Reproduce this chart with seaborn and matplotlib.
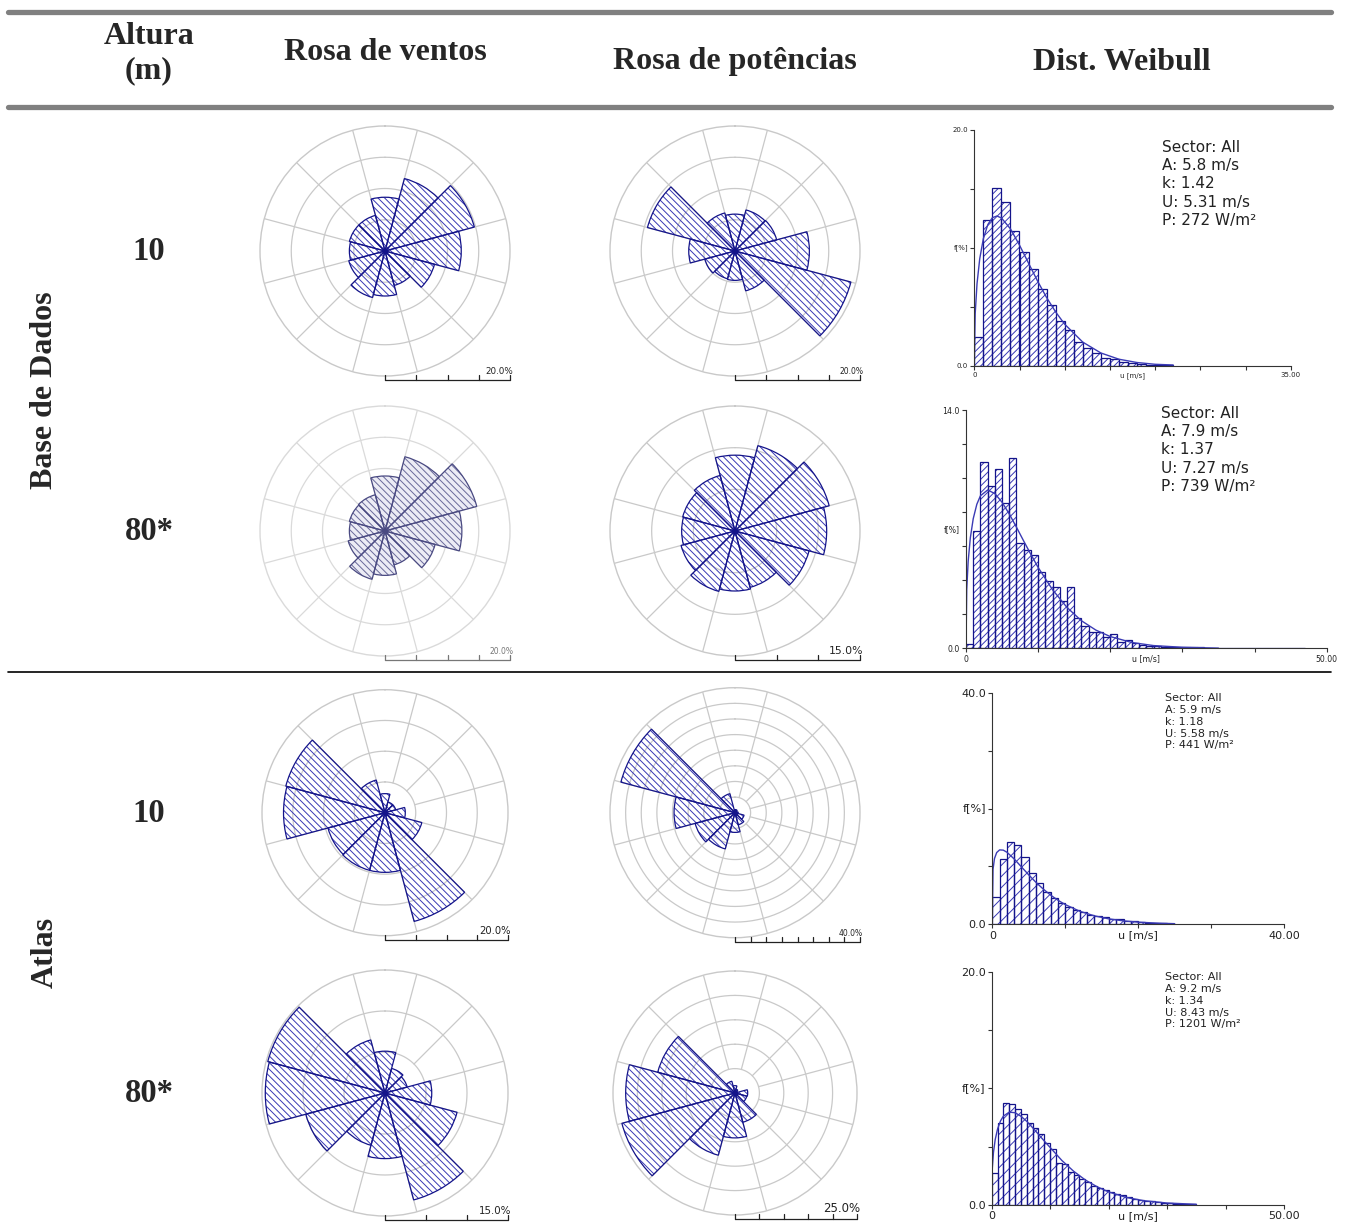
import numpy as np
import pandas as pd
import matplotlib
matplotlib.use('Agg')
import matplotlib.pyplot as plt
from matplotlib.lines import Line2D
import seaborn as sns

W, H = 1349, 1228

# sectores da rosa (graus a partir do Norte, sentido horário)
setores = np.arange(0, 360, 30)

# Rosa de ventos - frequência por sector [%]
vento_bd10 = [8.6, 12.0, 14.8, 12.2, 8.2, 5.7, 7.2, 7.7, 6.0, 5.7, 5.9, 5.9]
vento_bd80 = [8.8, 12.3, 15.2, 12.3, 8.3, 5.6, 7.1, 8.0, 6.1, 5.7, 5.9, 6.0]
vento_at10 = [3.1, 1.8, 1.8, 3.3, 6.2, 18.3, 9.7, 9.7, 9.6, 16.5, 16.7, 5.5]
vento_at80 = [5.1, 3.1, 2.8, 5.7, 9.1, 13.5, 8.0, 6.6, 10.0, 14.6, 14.8, 6.7]

# Rosa de potências [%]
pot_bd10 = [5.9, 6.8, 6.9, 11.9, 19.2, 6.6, 4.7, 4.6, 5.0, 7.4, 14.5, 6.3]
pot_bd80 = [9.1, 10.6, 11.7, 11.0, 9.2, 7.0, 7.2, 7.5, 6.7, 6.4, 6.5, 6.9]
pot_at10 = [1.0, 1.0, 0.5, 1.0, 3.0, 4.0, 6.3, 12.0, 13.2, 19.5, 37.8, 6.3]
pot_at80 = [1.5, 0.8, 0.5, 2.6, 2.5, 6.2, 9.2, 13.2, 24.0, 22.4, 16.4, 2.5]

# escala das rosas: valor máximo e passo dos anéis [%]
escala_vento = [20, 20, 20, 15]
escala_pot = [20, 15, 40, 25]
passo_anel = 5

# Dist. Weibull - histograma por classe de 1 m/s [%]
freq_bd10 = [2.46, 12.33, 15.1, 13.86, 11.4, 9.62, 8.2, 6.5, 5.15, 3.79, 3.03,
             2.04, 1.47, 1.05, 0.62, 0.54, 0.34, 0.2, 0.11, 0.08, 0.05, 0.03]
freq_bd80 = [0.23, 6.89, 10.93, 9.54, 10.53, 8.52, 11.16, 6.17, 5.78, 5.48, 4.5,
             3.96, 3.62, 2.8, 3.62, 1.8, 1.33, 0.94, 0.94, 0.65, 0.82, 0.39, 0.47,
             0.29, 0.2, 0.16, 0.12, 0.1, 0.08, 0.08, 0.07, 0.06, 0.05, 0.04, 0.03,
             0.03, 0.03, 0.03, 0.02, 0.02, 0.02, 0.02, 0.02, 0.02, 0.02, 0.02, 0.02]
freq_at10 = [4.66, 11.2, 14.16, 13.7, 11.57, 8.8, 7.08, 5.53, 4.49, 3.74, 2.94,
             2.47, 2.07, 1.61, 1.44, 1.21, 0.98, 0.86, 0.63, 0.52, 0.4, 0.29,
             0.23, 0.17, 0.12]
freq_at80 = [2.71, 7.0, 8.71, 8.63, 8.23, 7.77, 7.06, 6.57, 6.09, 5.29, 4.77,
             3.57, 3.51, 2.86, 2.57, 2.2, 2.0, 1.66, 1.43, 1.29, 1.14, 0.91, 0.83,
             0.71, 0.54, 0.43, 0.37, 0.31, 0.23, 0.2, 0.14, 0.06, 0.06, 0.06, 0.06]

# curvas de Weibull ajustadas
cx_bd10 = [0, 0.1, 0.3, 0.6, 1, 1.5, 2, 2.5, 3, 4, 5, 6, 7, 8, 9, 10, 12, 14, 16, 18, 20, 22]
cy_bd10 = [0, 4.43, 6.95, 9.07, 10.78, 11.98, 12.56, 12.70, 12.54, 11.61, 10.23, 8.70,
           7.18, 5.78, 4.56, 3.52, 2.00, 1.08, 0.55, 0.27, 0.12, 0.06]
cx_bd80 = [0, 0.1, 0.3, 0.6, 1, 1.5, 2, 3, 4, 5, 6, 7, 8, 9, 10, 12, 14, 16, 18, 20, 23, 26, 30, 35]
cy_bd80 = [0, 3.43, 5.11, 6.49, 7.61, 8.46, 8.96, 9.30, 9.09, 8.58, 7.89, 7.11, 6.30,
           5.51, 4.75, 3.44, 2.40, 1.62, 1.07, 0.69, 0.34, 0.16, 0.06, 0.01]
cx_at10 = [0, 0.1, 0.3, 0.6, 1, 1.5, 2, 3, 4, 5, 6, 7, 8, 9, 10, 12, 14, 16, 18, 20, 23, 25]
cy_at10 = [0, 9.52, 11.36, 12.39, 12.85, 12.81, 12.45, 11.29, 9.91, 8.53, 7.23, 6.07,
           5.04, 4.16, 3.41, 2.25, 1.46, 0.93, 0.59, 0.37, 0.18, 0.11]
cx_at80 = [0, 0.1, 0.3, 0.6, 1, 1.5, 2, 3, 4, 5, 6, 7, 8, 9, 10, 12, 14, 16, 18, 20, 23, 26, 30, 35]
cy_at80 = [0, 3.12, 4.50, 5.61, 6.51, 7.20, 7.62, 7.96, 7.91, 7.61, 7.17, 6.63, 6.06,
           5.48, 4.93, 3.82, 2.90, 2.15, 1.57, 1.12, 0.65, 0.37, 0.17, 0.06]

stats_txt = ['Sector: All\nA: 5.8 m/s\nk: 1.42\nU: 5.31 m/s\nP: 272 W/m²',
             'Sector: All\nA: 7.9 m/s\nk: 1.37\nU: 7.27 m/s\nP: 739 W/m²',
             'Sector: All\nA: 5.9 m/s\nk: 1.18\nU: 5.58 m/s\nP: 441 W/m²',
             'Sector: All\nA: 9.2 m/s\nk: 1.34\nU: 8.43 m/s\nP: 1201 W/m²']

# eixos dos histogramas: x máx, passo x, y máx, passo y
weib_x = [(35, 5), (50, 10), (40, 10), (50, 10)]
weib_y = [(20, 5), (14, 2), (40, 10), (20, 5)]

titulos = ['Rosa de ventos', 'Rosa de potências', 'Dist. Weibull']
alturas = ['10', '80*', '10', '80*']
grupos = ['Base de Dados', 'Atlas']

# ---------------------------------------------------------------
sns.set_theme(style='white')
plt.rcParams['font.family'] = ['DejaVu Sans']
plt.rcParams['hatch.linewidth'] = 0.7

azul = '#14148a'
azul_hatch = '#3838b4'
azul_curva = '#3b3bb5'
serif = ['Liberation Serif', 'DejaVu Serif']

fig = plt.figure(figsize=(W / 100, H / 100), dpi=100)


def ax_px(x0, y0, x1, y1, **kw):
    return fig.add_axes([x0 / W, 1 - y1 / H, (x1 - x0) / W, (y1 - y0) / H], **kw)


def txt(x, y, s, **kw):
    return fig.text(x / W, 1 - y / H, s, **kw)


def linha(xs, ys, **kw):
    fig.add_artist(Line2D([x / W for x in xs], [1 - y / H for y in ys],
                          transform=fig.transFigure, **kw))


def rosa(cx, cy, R, valores, rmax, rotulo, fs, apagada=False):
    ax = ax_px(cx - R, cy - R, cx + R, cy + R, projection='polar')
    ax.set_theta_zero_location('N')
    ax.set_theta_direction(-1)
    ax.set_ylim(0, rmax)
    ax.set_xticks([])
    ax.set_yticks([])
    ax.grid(False)
    ax.set_facecolor('none')
    cor_grade = '#dadada' if apagada else '#c9c9c9'
    ax.spines['polar'].set_color(cor_grade)
    ax.spines['polar'].set_linewidth(1.0)
    th = np.linspace(0, 2 * np.pi, 361)
    for r in np.arange(passo_anel, rmax, passo_anel):
        ax.plot(th, np.full_like(th, r), color=cor_grade, lw=0.9, zorder=1)
    for a in np.deg2rad(np.arange(15, 360, 30)):
        ax.plot([a, a], [passo_anel, rmax], color=cor_grade, lw=0.9, zorder=1)
    if apagada:
        fc, ec, hc = '#ececf5', '#4a4a82', '#6a6a9a'
    else:
        fc, ec, hc = 'none', azul, azul_hatch
    th_set = np.deg2rad(setores)
    larg = np.deg2rad(30)
    ax.bar(th_set, valores, width=larg, bottom=0, facecolor=fc, edgecolor=hc,
           hatch='\\' * 5, linewidth=0, zorder=2)
    ax.bar(th_set, valores, width=larg, bottom=0, facecolor='none', edgecolor=ec,
           linewidth=0.9, zorder=3)
    ax.plot([0], [0], marker='o', ms=3, color=ec, zorder=4)
    # barra de escala
    yb = cy + R + 4
    n = int(round(rmax / passo_anel))
    cor_esc = '#777777' if apagada else '#222222'
    linha([cx, cx + R], [yb, yb], color=cor_esc, lw=0.9)
    for i in range(n + 1):
        xt = cx + R * i / n
        linha([xt, xt], [yb, yb - 5], color=cor_esc, lw=0.9)
    txt(cx + R + 3, yb - 4, rotulo, ha='right', va='bottom', fontsize=fs,
        color=cor_esc)


def weibull(box, freq, cx, cy, xlim, ylim, hatch, fs, stats, spos, sfs, sls):
    ax = ax_px(*box)
    n = len(freq)
    dados = pd.DataFrame({'u': np.arange(n) + 0.5, 'f': freq})
    sns.histplot(data=dados, x='u', weights='f', binwidth=1, binrange=(0, n),
                 ax=ax, element='bars', fill=True, facecolor='white',
                 edgecolor=azul_hatch, hatch=hatch, linewidth=0, alpha=1)
    sns.histplot(data=dados, x='u', weights='f', binwidth=1, binrange=(0, n),
                 ax=ax, element='bars', fill=True, facecolor='none',
                 edgecolor=azul, linewidth=0.9, alpha=1)
    curva = pd.DataFrame({'u': cx, 'f': cy})
    sns.lineplot(data=curva, x='u', y='f', ax=ax, color=azul_curva, lw=1.0)
    xmax, xstep = xlim
    ymax, ystep = ylim
    ax.set_xlim(0, xmax)
    ax.set_ylim(0, ymax)
    ax.set_xlabel('')
    ax.set_ylabel('')
    xt = np.arange(0, xmax + 0.01, xstep)
    ax.set_xticks(xt)
    ax.set_xticklabels(['0'] + [''] * (len(xt) - 2) + [f'{xmax:.2f}'], fontsize=fs)
    yt = np.arange(0, ymax + 0.01, ystep)
    ax.set_yticks(yt)
    ax.set_yticklabels(['0.0'] + [''] * (len(yt) - 2) + [f'{ymax:.1f}'], fontsize=fs)
    ax.tick_params(bottom=True, left=True, direction='out', length=3, width=0.8,
                   color='#333333', pad=1.5, labelcolor='#222222')
    for s in ['top', 'right']:
        ax.spines[s].set_visible(False)
    for s in ['left', 'bottom']:
        ax.spines[s].set_color('#333333')
        ax.spines[s].set_linewidth(0.8)
    ax.annotate('f[%]', xy=(0, ymax / 2), xycoords=('axes fraction', 'data'),
                xytext=(-4.5, 0), textcoords='offset points', ha='right',
                va='center', fontsize=fs, color='#222222')
    ax.annotate('u [m/s]', xy=(xmax / 2, 0), xycoords=('data', 'axes fraction'),
                xytext=(0, -4.5), textcoords='offset points', ha='center',
                va='top', fontsize=fs, color='#222222')
    txt(spos[0], spos[1], stats, ha='left', va='top', fontsize=sfs,
        linespacing=sls, color='#222222')


# linhas da tabela
linha([8, 1331], [12, 12], color='#808080', lw=3.8)
linha([8, 1331], [107, 107], color='#808080', lw=3.8)
linha([8, 1331], [672, 672], color='black', lw=1.2)

# cabeçalho
hdr = dict(family=serif, weight='bold', fontsize=23, ha='center', va='center')
txt(149, 36, 'Altura', **hdr)
txt(149, 71, '(m)', **hdr)
txt(385, 53, titulos[0], **hdr)
txt(735, 62, titulos[1], **hdr)
txt(1122, 62, titulos[2], **hdr)

txt(45, 390, grupos[0], rotation=90, **hdr)
txt(45, 952, grupos[1], rotation=90, **hdr)

centros_y = [251, 531, 812.7, 1093]
for yc, h in zip(centros_y, alturas):
    txt(149, yc + 1, h, family=serif, weight='bold', fontsize=23.5,
        ha='center', va='center')

# rosas de ventos
rosa(385, 251, 125, vento_bd10, escala_vento[0], '20.0%', 6.3)
rosa(385, 531, 125, vento_bd80, escala_vento[1], '20.0%', 5.5, apagada=True)
rosa(385, 812.7, 123, vento_at10, escala_vento[2], '20.0%', 7.2)
rosa(385, 1093, 123, vento_at80, escala_vento[3], '15.0%', 7.4)

# rosas de potências
rosa(735, 251, 125, pot_bd10, escala_pot[0], '20.0%', 5.5)
rosa(735, 531, 125, pot_bd80, escala_pot[1], '15.0%', 7.8)
rosa(735, 812.7, 125, pot_at10, escala_pot[2], '40.0%', 5.5)
rosa(735, 1093, 122, pot_at80, escala_pot[3], '25.0%', 8.5)

# distribuições de Weibull
weibull((974.3, 130, 1290.7, 365.7), freq_bd10, cx_bd10, cy_bd10, weib_x[0], weib_y[0],
        '/' * 5, 5.0, stats_txt[0], (1162, 140), 11, 1.27)
weibull((966, 410, 1326.7, 648.3), freq_bd80, cx_bd80, cy_bd80, weib_x[1], weib_y[1],
        '/' * 5, 5.6, stats_txt[1], (1161, 406), 11, 1.27)
weibull((992.3, 692.7, 1284, 924.3), freq_at10, cx_at10, cy_at10, weib_x[2], weib_y[2],
        '///', 8.0, stats_txt[2], (1165, 693), 8, 1.23)
weibull((991.7, 971.7, 1284, 1205), freq_at80, cx_at80, cy_at80, weib_x[3], weib_y[3],
        '///', 8.0, stats_txt[3], (1165, 972), 8, 1.23)

fig.savefig('out.png', dpi=100, facecolor='white')
